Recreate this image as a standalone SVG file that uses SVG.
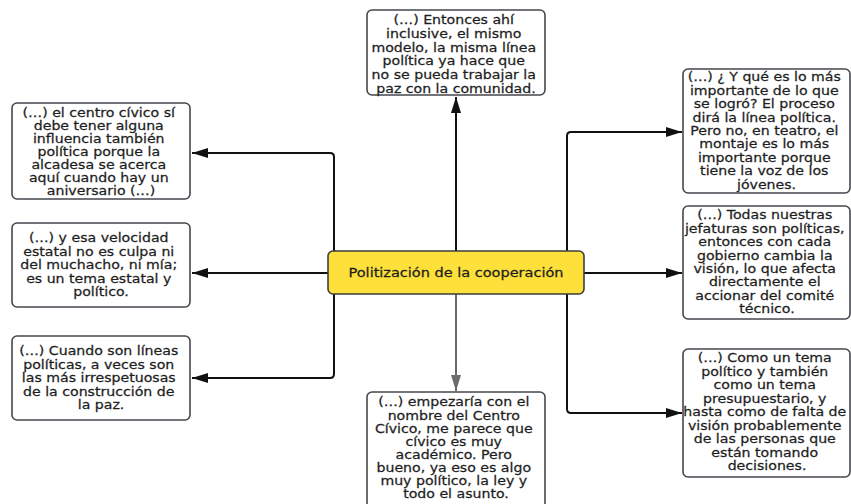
<svg xmlns="http://www.w3.org/2000/svg" width="851" height="504" viewBox="0 0 851 504">
<style>
.box{fill:#ffffff;stroke:#45474d;stroke-width:1.6}
.main{fill:#fde03a;stroke:#3d3d3d;stroke-width:1.6}
.t{font-family:"DejaVu Sans","Liberation Sans",sans-serif;font-size:12.4px;fill:#1e1e1e;stroke:#1e1e1e;stroke-width:0.25;text-anchor:middle}
.c{fill:none;stroke:#111111;stroke-width:2}
.g{fill:none;stroke:#6a6a6a;stroke-width:2}
</style>
<defs>
<marker id="ah" markerUnits="userSpaceOnUse" markerWidth="17" markerHeight="11" refX="16" refY="5" orient="auto"><path d="M0,0 L16,5 L0,10 z" fill="#111111"/></marker>
<marker id="ahg" markerUnits="userSpaceOnUse" markerWidth="17" markerHeight="11" refX="16" refY="5" orient="auto"><path d="M0,0 L16,5 L0,10 z" fill="#6a6a6a"/></marker>
</defs>
<rect width="851" height="504" fill="#ffffff"/>
<g id="connectors">
<path class="c" d="M456 251 V97" marker-end="url(#ah)"/>
<path class="g" d="M456 294 V391" marker-end="url(#ahg)"/>
<path class="c" d="M334 251 V157 Q334 153 330 153 H192" marker-end="url(#ah)"/>
<path class="c" d="M328 273 H192" marker-end="url(#ah)"/>
<path class="c" d="M334 294 V374 Q334 378 330 378 H192" marker-end="url(#ah)"/>
<path class="c" d="M567 251 V136 Q567 132 571 132 H682" marker-end="url(#ah)"/>
<path class="c" d="M584 273 H682" marker-end="url(#ah)"/>
<path class="c" d="M567 294 V409 Q567 413 571 413 H682" marker-end="url(#ah)"/>
</g>
<g id="center">
<rect class="main" x="328" y="251" width="256" height="43" rx="5"/>
<text class="t" transform="translate(456 0) scale(1.17 1)"><tspan x="0" y="277">Politización de la cooperación</tspan></text>
</g>
<g id="top">
<rect class="box" x="367" y="10" width="178" height="85" rx="5"/>
<text class="t" transform="translate(456 0) scale(1.14 1)">
<tspan x="0" y="24">(…) Entonces ahí</tspan>
<tspan x="0" y="37.8">inclusive, el mismo</tspan>
<tspan x="0" y="51.6">modelo, la misma línea</tspan>
<tspan x="0" y="65.4">política ya hace que</tspan>
<tspan x="0" y="79.2">no se pueda trabajar la</tspan>
<tspan x="0" y="93">paz con la comunidad.</tspan>
</text>
</g>
<g id="left1">
<rect class="box" x="12" y="103" width="178" height="96" rx="5"/>
<text class="t" transform="translate(101 0) scale(1.14 1)">
<tspan x="0" y="117">(…) el centro cívico sí</tspan>
<tspan x="0" y="130">debe tener alguna</tspan>
<tspan x="0" y="143">influencia también</tspan>
<tspan x="0" y="156">política porque la</tspan>
<tspan x="0" y="169">alcadesa se acerca</tspan>
<tspan x="0" y="182">aquí cuando hay un</tspan>
<tspan x="0" y="195">aniversario (…)</tspan>
</text>
</g>
<g id="left2">
<rect class="box" x="12" y="223" width="178" height="84" rx="5"/>
<text class="t" transform="translate(101 0) scale(1.14 1)">
<tspan x="0" y="242.5">(…) y esa velocidad</tspan>
<tspan x="0" y="256">estatal no es culpa ni</tspan>
<tspan x="0" y="269.5">del muchacho, ni mía;</tspan>
<tspan x="0" y="283">es un tema estatal y</tspan>
<tspan x="0" y="296.5">político.</tspan>
</text>
</g>
<g id="left3">
<rect class="box" x="12" y="336" width="178" height="84" rx="5"/>
<text class="t" transform="translate(101 0) scale(1.14 1)">
<tspan x="0" y="355.5">(…) Cuando son líneas</tspan>
<tspan x="0" y="369">políticas, a veces son</tspan>
<tspan x="0" y="382.5">las más irrespetuosas</tspan>
<tspan x="0" y="396">de la construcción de</tspan>
<tspan x="0" y="409.5">la paz.</tspan>
</text>
</g>
<g id="bottom">
<rect class="box" x="367" y="392" width="178" height="118" rx="5"/>
<text class="t" transform="translate(456 0) scale(1.14 1)">
<tspan x="0" y="406.5">(…) empezaría con el</tspan>
<tspan x="0" y="419.6">nombre del Centro</tspan>
<tspan x="0" y="432.7">Cívico, me parece que</tspan>
<tspan x="0" y="445.8">cívico es muy</tspan>
<tspan x="0" y="458.9">académico. Pero</tspan>
<tspan x="0" y="472">bueno, ya eso es algo</tspan>
<tspan x="0" y="485.1">muy político, la ley y</tspan>
<tspan x="0" y="498.2">todo el asunto.</tspan>
</text>
</g>
<g id="right1">
<rect class="box" x="683" y="69" width="167" height="124" rx="5"/>
<text class="t" transform="translate(766.5 0) scale(1.14 1)">
<tspan x="0" y="81.5">(…) ¿ Y qué es lo más</tspan>
<tspan x="0" y="94.9">importante de lo que</tspan>
<tspan x="0" y="108.3">se logró? El proceso</tspan>
<tspan x="0" y="121.7">dirá la línea política.</tspan>
<tspan x="0" y="135.1">Pero no, en teatro, el</tspan>
<tspan x="0" y="148.5">montaje es lo más</tspan>
<tspan x="0" y="161.9">importante porque</tspan>
<tspan x="0" y="175.3">tiene la voz de los</tspan>
<tspan x="0" y="188.7">jóvenes.</tspan>
</text>
</g>
<g id="right2">
<rect class="box" x="683" y="206" width="167" height="113" rx="5"/>
<text class="t" transform="translate(767 0) scale(1.14 1)">
<tspan x="0" y="219.5">(…) Todas nuestras</tspan>
<tspan x="0" y="232.9">jefaturas son políticas,</tspan>
<tspan x="0" y="246.3">entonces con cada</tspan>
<tspan x="0" y="259.7">gobierno cambia la</tspan>
<tspan x="0" y="273.1">visión, lo que afecta</tspan>
<tspan x="0" y="286.5">directamente el</tspan>
<tspan x="0" y="299.9">accionar del comité</tspan>
<tspan x="0" y="313.3">técnico.</tspan>
</text>
</g>
<g id="right3">
<rect class="box" x="683" y="349" width="167" height="128" rx="5"/>
<text class="t" transform="translate(767 0) scale(1.14 1)">
<tspan x="0" y="362.5">(…) Como un tema</tspan>
<tspan x="0" y="376">político y también</tspan>
<tspan x="0" y="389.5">como un tema</tspan>
<tspan x="0" y="403">presupuestario, y</tspan>
<tspan x="0" y="416.5">hasta como de falta de</tspan>
<tspan x="0" y="430">visión probablemente</tspan>
<tspan x="0" y="443.5">de las personas que</tspan>
<tspan x="0" y="457">están tomando</tspan>
<tspan x="0" y="470.5">decisiones.</tspan>
</text>
</g>
</svg>
